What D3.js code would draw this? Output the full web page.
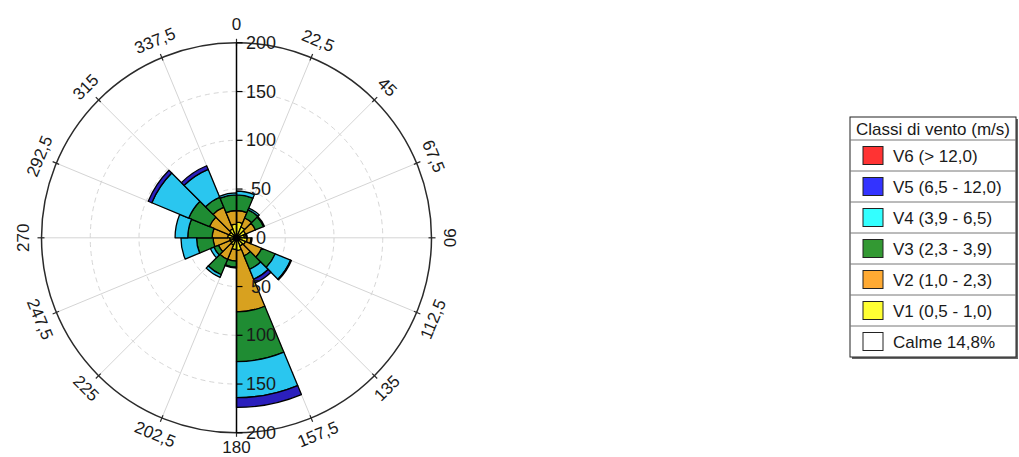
<!DOCTYPE html>
<html>
<head>
<meta charset="utf-8">
<script src="https://cdn.jsdelivr.net/npm/d3@7"></script>
<style>
  html, body { margin: 0; padding: 0; background: #fff; }
  svg { display: block; }
  text { font-family: "Liberation Sans", Arial, sans-serif; fill: #1a1a1a; }
</style>
</head>
<body>
<svg id="rose" width="1019" height="457"></svg>
<script>
// Direction sectors (start bearing of each 22.5° sector, degrees clockwise from north)
const sectorStart = [0, 22.5, 45, 67.5, 90, 112.5, 135, 157.5, 180, 202.5, 225, 247.5, 270, 292.5, 315, 337.5];
const dirLabels = ["0", "22,5", "45", "67,5", "90", "112,5", "135", "157,5", "180", "202,5", "225", "247,5", "270", "292,5", "315", "337,5"];

// Counts per wind-speed class for each sector
const v1 = [16, 12, 10, 8, 11, 10, 9, 13, 12, 8, 7, 7, 9, 8, 10, 14];
const v2 = [12, 10, 11, 2, 4, 18, 11, 63, 12, 16, 13, 17, 16, 22, 24, 14];
const v3 = [16, 9, 9, 1, 1, 15, 15, 51, 6, 17, 5, 17, 25, 23, 11, 16];
const v4 = [4, 2, 1, 0, 0, 17, 11, 37, 1, 3, 4, 16, 13, 41, 31, 2];
const v5 = [0, 0, 0, 0, 0, 1, 4, 10, 0, 0, 0, 0, 0, 4, 4, 0];
const v6 = [0, 0, 0, 0, 0, 0, 0, 0, 0, 0, 0, 0, 0, 0, 0, 0];

// Radial axis ticks
const radialTicks = [0, 50, 100, 150, 200];
const gridRings = [50, 100, 150];

// Legend
const legendTitle = "Classi di vento (m/s)";
const legendLabels = ["V6 (> 12,0)", "V5 (6,5 - 12,0)", "V4 (3,9 - 6,5)", "V3 (2,3 - 3,9)", "V2 (1,0 - 2,3)", "V1 (0,5 - 1,0)", "Calme 14,8%"];

const classKeys = ["V1", "V2", "V3", "V4", "V5", "V6"];
const fillRose = { V1: "#f4ee22", V2: "#d8a11f", V3: "#1f8c33", V4: "#2ac6ef", V5: "#2b1fbd", V6: "#e02828" };
const fillLegend = ["#ff3333", "#3333ff", "#33ffff", "#339933", "#ffaa33", "#ffff33", "#ffffff"];

const table = sectorStart.map((s, i) => ({
  start: s, V1: v1[i], V2: v2[i], V3: v3[i], V4: v4[i], V5: v5[i], V6: v6[i]
}));

const W = 1019, H = 457;
const svg = d3.select("#rose");
const cx = 236.5, cy = 237.8, R = 195;
const rad = d3.scaleLinear().domain([0, 200]).range([0, R]);
const toRad = d => d * Math.PI / 180;
const sectorWidth = 22.5;

const g = svg.append("g").attr("transform", `translate(${cx},${cy})`);

// dashed range rings
g.selectAll("circle.ring").data(gridRings).join("circle")
  .attr("class", "ring").attr("r", d => rad(d))
  .attr("fill", "none").attr("stroke", "#d6d6d6").attr("stroke-width", 1)
  .attr("stroke-dasharray", "5,4");

// spokes
g.selectAll("line.spoke").data(sectorStart).join("line")
  .attr("class", "spoke")
  .attr("x1", 0).attr("y1", 0)
  .attr("x2", d => R * Math.sin(toRad(d)))
  .attr("y2", d => -R * Math.cos(toRad(d)))
  .attr("stroke", "#d4d4d4").attr("stroke-width", 1);

// stacked sectors
const series = d3.stack().keys(classKeys)(table);
const arc = d3.arc()
  .innerRadius(d => rad(d[0]))
  .outerRadius(d => rad(d[1]))
  .startAngle(d => toRad(d.data.start))
  .endAngle(d => toRad(d.data.start + sectorWidth));

g.selectAll("g.band").data(series).join("g")
  .attr("class", "band")
  .attr("fill", s => fillRose[s.key])
  .selectAll("path").data(s => s.filter(d => d[1] > d[0])).join("path")
  .attr("d", arc)
  .attr("stroke", "#000").attr("stroke-width", 1.3).attr("stroke-linejoin", "round");

// outer circle
g.append("circle").attr("r", R).attr("fill", "none")
  .attr("stroke", "#2a2a2a").attr("stroke-width", 1.5);

// ticks on the outer circle
g.selectAll("line.otick").data(sectorStart).join("line")
  .attr("class", "otick")
  .attr("x1", d => (R - 3) * Math.sin(toRad(d)))
  .attr("y1", d => -(R - 3) * Math.cos(toRad(d)))
  .attr("x2", d => (R + 4) * Math.sin(toRad(d)))
  .attr("y2", d => -(R + 4) * Math.cos(toRad(d)))
  .attr("stroke", "#2a2a2a").attr("stroke-width", 1.2);

// direction labels, kept inside the drawing area
const labelR = 213;
const maxY = H - cy - 10;
g.selectAll("text.dir").data(sectorStart).join("text")
  .attr("class", "dir")
  .attr("transform", (d, i) => {
    const x = labelR * Math.sin(toRad(d));
    const y = Math.min(-labelR * Math.cos(toRad(d)), maxY);
    const rot = d <= 90 ? d : (d < 270 ? d - 180 : d - 360);
    return `translate(${x},${y}) rotate(${rot})`;
  })
  .attr("text-anchor", "middle").attr("dominant-baseline", "central")
  .attr("font-size", 17)
  .text((d, i) => dirLabels[i]);

// vertical radial axis (north-south)
g.append("line").attr("x1", 0).attr("x2", 0).attr("y1", -R).attr("y2", R)
  .attr("stroke", "#000").attr("stroke-width", 1.5);

const tickRows = [];
radialTicks.forEach(t => {
  tickRows.push({ v: t, y: -rad(t) });
  if (t > 0) tickRows.push({ v: t, y: rad(t) });
});
g.selectAll("line.rtick").data(tickRows).join("line")
  .attr("class", "rtick")
  .attr("x1", 0).attr("x2", 6).attr("y1", d => d.y).attr("y2", d => d.y)
  .attr("stroke", "#000").attr("stroke-width", 1.2);
g.selectAll("text.rlab").data(tickRows).join("text")
  .attr("class", "rlab")
  .attr("x", 24.5).attr("y", d => d.y)
  .attr("text-anchor", "middle").attr("dominant-baseline", "central")
  .attr("font-size", 18)
  .text(d => d.v);

// legend
const lx = 850, ly = 117, lw = 166, headH = 23, rowH = 31;
const lh = headH + rowH * legendLabels.length;
const leg = svg.append("g");
leg.append("rect").attr("x", lx + 2).attr("y", ly + 2).attr("width", lw).attr("height", lh)
  .attr("fill", "#666");
leg.append("rect").attr("x", lx).attr("y", ly).attr("width", lw).attr("height", lh)
  .attr("fill", "#fff").attr("stroke", "#222").attr("stroke-width", 1);
leg.append("text").attr("x", lx + lw / 2).attr("y", ly + headH / 2 + 1)
  .attr("text-anchor", "middle").attr("dominant-baseline", "central")
  .attr("font-size", 17).text(legendTitle);
const rows = leg.selectAll("g.row").data(legendLabels).join("g")
  .attr("class", "row")
  .attr("transform", (d, i) => `translate(${lx},${ly + headH + i * rowH})`);
rows.append("line").attr("x1", 0).attr("x2", lw).attr("y1", 0).attr("y2", 0)
  .attr("stroke", "#777").attr("stroke-width", 1);
rows.append("rect").attr("x", 13).attr("y", rowH / 2 - 9).attr("width", 20).attr("height", 18)
  .attr("fill", (d, i) => fillLegend[i]).attr("stroke", "#222").attr("stroke-width", 1);
rows.append("text").attr("x", 43).attr("y", rowH / 2 + 1)
  .attr("dominant-baseline", "central").attr("font-size", 17)
  .text(d => d);
</script>
</body>
</html>
